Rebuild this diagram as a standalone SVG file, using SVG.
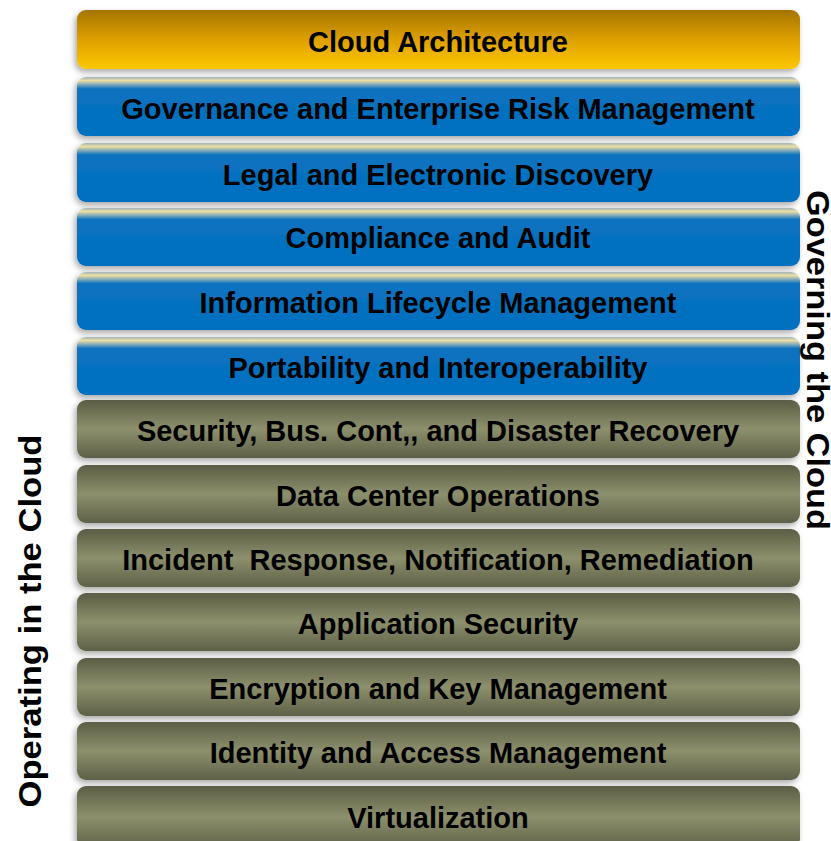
<svg xmlns="http://www.w3.org/2000/svg" width="831" height="841" viewBox="0 0 831 841">
  <defs>
    <linearGradient id="gold" x1="0" y1="0" x2="0" y2="1">
      <stop offset="0" stop-color="#a47400"/>
      <stop offset="0.5" stop-color="#dea000"/>
      <stop offset="1" stop-color="#fdc800"/>
    </linearGradient>
    <linearGradient id="blue" x1="0" y1="0" x2="0" y2="1">
      <stop offset="0" stop-color="#9cb4bc"/>
      <stop offset="0.06" stop-color="#eedfa4"/>
      <stop offset="0.12" stop-color="#8fb0b8"/>
      <stop offset="0.2" stop-color="#0a72bf"/>
      <stop offset="1" stop-color="#0070c0"/>
    </linearGradient>
    <linearGradient id="olive" x1="0" y1="0" x2="0" y2="1">
      <stop offset="0" stop-color="#5b5d44"/>
      <stop offset="0.5" stop-color="#8d906c"/>
      <stop offset="1" stop-color="#5e6047"/>
    </linearGradient>
    <filter id="shadow" x="-5%" y="-20%" width="110%" height="150%">
      <feGaussianBlur in="SourceAlpha" stdDeviation="3"/>
      <feOffset dx="-2" dy="3" result="b"/>
      <feComponentTransfer><feFuncA type="linear" slope="0.35"/></feComponentTransfer>
      <feMerge><feMergeNode/><feMergeNode in="SourceGraphic"/></feMerge>
    </filter>
  </defs>
  <style>
    .bar { filter: url(#shadow); }
    .label { font-family: "Liberation Sans", Arial, sans-serif; font-weight: bold; font-size: 29px; fill: #000; text-anchor: middle; dominant-baseline: central; }
    .side { font-family: "Liberation Sans", Arial, sans-serif; font-weight: bold; font-size: 31px; fill: #000; text-anchor: middle; dominant-baseline: central; }
  </style>

  <g id="cloud-architecture"><rect class="bar" x="77" y="10" width="723" height="59" rx="9" fill="url(#gold)"/><text class="label" x="438" y="42">Cloud Architecture</text></g>
  <g id="governance"><rect class="bar" x="77" y="77" width="723" height="59" rx="9" fill="url(#blue)"/><text class="label" x="438" y="109">Governance and Enterprise Risk Management</text></g>
  <g id="legal"><rect class="bar" x="77" y="143" width="723" height="59" rx="9" fill="url(#blue)"/><text class="label" x="438" y="175">Legal and Electronic Discovery</text></g>
  <g id="compliance"><rect class="bar" x="77" y="208" width="723" height="58" rx="9" fill="url(#blue)"/><text class="label" x="438" y="238">Compliance and Audit</text></g>
  <g id="info-lifecycle"><rect class="bar" x="77" y="272" width="723" height="58" rx="9" fill="url(#blue)"/><text class="label" x="438" y="303">Information Lifecycle Management</text></g>
  <g id="portability"><rect class="bar" x="77" y="337" width="723" height="58" rx="9" fill="url(#blue)"/><text class="label" x="438" y="368">Portability and Interoperability</text></g>
  <g id="security-bcdr"><rect class="bar" x="77" y="400" width="723" height="58" rx="9" fill="url(#olive)"/><text class="label" x="438" y="431">Security, Bus. Cont,, and Disaster Recovery</text></g>
  <g id="data-center"><rect class="bar" x="77" y="465" width="723" height="58" rx="9" fill="url(#olive)"/><text class="label" x="438" y="496">Data Center Operations</text></g>
  <g id="incident"><rect class="bar" x="77" y="529" width="723" height="58" rx="9" fill="url(#olive)"/><text class="label" x="438" y="560" xml:space="preserve">Incident  Response, Notification, Remediation</text></g>
  <g id="app-security"><rect class="bar" x="77" y="593" width="723" height="58" rx="9" fill="url(#olive)"/><text class="label" x="438" y="624">Application Security</text></g>
  <g id="encryption"><rect class="bar" x="77" y="658" width="723" height="58" rx="9" fill="url(#olive)"/><text class="label" x="438" y="689">Encryption and Key Management</text></g>
  <g id="identity"><rect class="bar" x="77" y="722" width="723" height="58" rx="9" fill="url(#olive)"/><text class="label" x="438" y="753">Identity and Access Management</text></g>
  <g id="virtualization"><rect class="bar" x="77" y="786" width="723" height="62" rx="9" fill="url(#olive)"/><text class="label" x="438" y="818">Virtualization</text></g>

  <g id="side-labels">
    <text class="side" transform="translate(817 360) rotate(90)" textLength="340" lengthAdjust="spacingAndGlyphs">Governing the Cloud</text>
    <text class="side" transform="translate(30 621) rotate(-90)" textLength="373" lengthAdjust="spacingAndGlyphs">Operating in the Cloud</text>
  </g>
</svg>
